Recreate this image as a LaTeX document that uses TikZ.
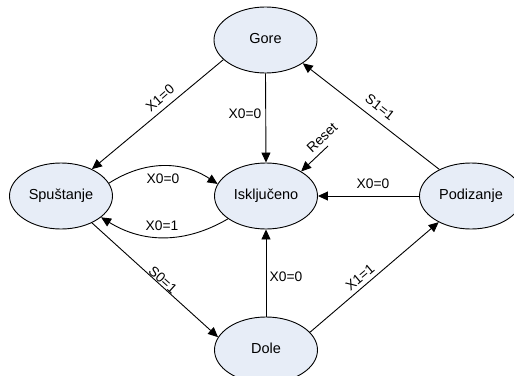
\documentclass[tikz,border=0pt]{standalone}
\usepackage{fontspec}
\setmainfont{Liberation Sans}
\usetikzlibrary{shapes.geometric,arrows.meta}
\definecolor{statefill}{RGB}{231,237,247}
\tikzset{
  state/.style={ellipse,draw=black,fill=statefill,line width=0.9pt,
    minimum width=103pt,minimum height=66pt,inner sep=0pt,
    font=\fontsize{14.5}{17}\selectfont,text height=10.4pt,text depth=3pt},
  conn/.style={line width=0.9pt,-{Triangle[length=10pt,width=9pt]}},
  lbl/.style={font=\fontsize{13.8}{16}\selectfont,inner sep=0pt}
}
\begin{document}
\begin{tikzpicture}[x=1pt,y=-1pt]
\useasboundingbox (0,0) rectangle (514,375);
\node[state] (gore) at (265.5,40) {Gore};
\node[state] (isk)  at (266,196) {Isključeno};
\node[state] (spu)  at (61,196) {Spuštanje};
\node[state] (pod)  at (471,196) {Podizanje};
\node[state] (dole) at (266,350) {Dole};
\coordinate (rst) at (328,146);

\draw[conn] (gore.205) -- (spu.41);
\draw[conn] (gore.south) -- (isk.north);
\draw[conn] (rst) -- (isk.35);
\draw[conn] (pod.140) -- (gore.328);
\draw[conn] (pod.west) -- (isk.east);
\draw[conn] (spu.15) to[bend left=33] (isk.166);
\draw[conn] (isk.211) to[bend left=31] (spu.332);
\draw[conn] (spu.319) -- (dole.165);
\draw[conn] (dole.north) -- (isk.south);
\draw[conn] (dole.22) -- (pod.219);

\node[lbl,rotate=41] (l1) at (160,98) {X1=0};
\node[lbl] (l2) at (245,114) {X0=0};
\node[lbl,rotate=43] (l3) at (322,138) {Reset};
\node[lbl,rotate=-38] (l4) at (380,107) {S1=1};
\node[lbl] (l5) at (373,184) {X0=0};
\node[lbl] (l6) at (163,179) {X0=0};
\node[lbl] (l7) at (162,226) {X0=1};
\node[lbl,rotate=-42] (l8) at (163,280) {S0=1};
\node[lbl] (l9) at (286,277) {X0=0};
\node[lbl,rotate=40] (l10) at (360,277) {X1=1};
\end{tikzpicture}
\end{document}
